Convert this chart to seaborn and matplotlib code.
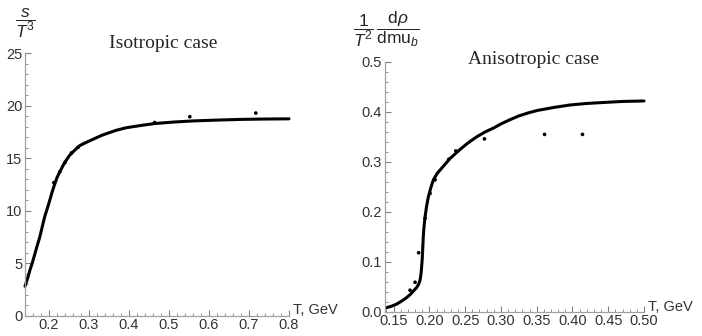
import numpy as np
import pandas as pd
import matplotlib
matplotlib.use("Agg")
import matplotlib.pyplot as plt
from matplotlib.ticker import MultipleLocator, FormatStrFormatter
import seaborn as sns

# ---- data ----
iso_curve_T = [0.14, 0.146, 0.152, 0.158, 0.164, 0.170, 0.177, 0.183, 0.189, 0.196, 0.202,
               0.208, 0.214, 0.220, 0.227, 0.235, 0.243, 0.251, 0.26, 0.268,
               0.277, 0.29, 0.31, 0.33, 0.352, 0.37, 0.393, 0.43, 0.464, 0.51, 0.56,
               0.62, 0.685, 0.74, 0.80]
iso_curve_s = [2.8, 3.5, 4.3, 5.0, 5.8, 6.6, 7.5, 8.45, 9.4, 10.25, 11.0,
               11.8, 12.5, 13.15, 13.7, 14.3, 14.8, 15.25, 15.6, 15.9,
               16.2, 16.45, 16.8, 17.15, 17.45, 17.68, 17.9, 18.12, 18.3, 18.44, 18.55,
               18.63, 18.7, 18.73, 18.75]
iso_pts_T = [0.212, 0.227, 0.240, 0.256, 0.273, 0.464, 0.552, 0.717]
iso_pts_s = [12.67, 13.7, 14.6, 15.5, 16.05, 18.4, 18.95, 19.3]

aniso_curve_T = [0.14, 0.147, 0.154, 0.161, 0.168, 0.173, 0.178, 0.182, 0.185, 0.1868,
                 0.188, 0.189, 0.190, 0.1908, 0.1915, 0.1925, 0.194, 0.196, 0.1986, 0.202,
                 0.2056, 0.211, 0.217, 0.223, 0.229, 0.236, 0.243, 0.254, 0.266, 0.278,
                 0.290, 0.30, 0.312, 0.325, 0.338, 0.351, 0.374, 0.397, 0.42, 0.444,
                 0.47, 0.50]
aniso_curve_v = [0.008, 0.011, 0.015, 0.021, 0.028, 0.034, 0.042, 0.048, 0.055, 0.062,
                 0.072, 0.086, 0.105, 0.128, 0.150, 0.170, 0.190, 0.210, 0.230, 0.248,
                 0.264, 0.277, 0.287, 0.297, 0.307, 0.316, 0.325, 0.338, 0.350, 0.360,
                 0.368, 0.376, 0.384, 0.392, 0.398, 0.403, 0.409, 0.414, 0.417, 0.419,
                 0.421, 0.422]
aniso_pts_T = [0.173, 0.180, 0.185, 0.194, 0.201, 0.208, 0.227, 0.237, 0.277, 0.361, 0.414]
aniso_pts_v = [0.043, 0.059, 0.118, 0.187, 0.237, 0.264, 0.305, 0.322, 0.346, 0.355, 0.355]

iso_title = "Isotropic case"
aniso_title = "Anisotropic case"
xlabel = "T, GeV"

sns.set_style("ticks")
plt.rcParams['font.family'] = ['Liberation Sans', 'DejaVu Sans']
plt.rcParams['mathtext.fontset'] = 'custom'
plt.rcParams['mathtext.rm'] = 'Liberation Sans'
plt.rcParams['mathtext.it'] = 'Liberation Sans:italic'

W, H = 702, 336
fig = plt.figure(figsize=(W / 100, H / 100), dpi=100)

def px_axes(x0, y0, x1, y1):
    return fig.add_axes([x0 / W, 1 - y1 / H, (x1 - x0) / W, (y1 - y0) / H])

ax1 = px_axes(25, 53.2, 289, 315.7)
ax2 = px_axes(385, 62, 644, 311.7)

iso_c = pd.DataFrame({"T": iso_curve_T, "v": iso_curve_s})
iso_p = pd.DataFrame({"T": iso_pts_T, "v": iso_pts_s})
an_c = pd.DataFrame({"T": aniso_curve_T, "v": aniso_curve_v})
an_p = pd.DataFrame({"T": aniso_pts_T, "v": aniso_pts_v})

for ax, c, p in [(ax1, iso_c, iso_p), (ax2, an_c, an_p)]:
    sns.lineplot(data=c, x="T", y="v", ax=ax, color="black", lw=2.2, sort=False)
    sns.scatterplot(data=p, x="T", y="v", ax=ax, color="black", s=7, edgecolor="none", zorder=5)

ax1.set_xlim(0.14, 0.8)
ax1.set_ylim(0, 25)
ax1.xaxis.set_major_locator(MultipleLocator(0.1))
ax1.xaxis.set_minor_locator(MultipleLocator(0.02))
ax1.yaxis.set_major_locator(MultipleLocator(5))
ax1.yaxis.set_minor_locator(MultipleLocator(1))
ax1.xaxis.set_major_formatter(FormatStrFormatter('%.1f'))

ax2.set_xlim(0.138, 0.5)
ax2.set_ylim(0, 0.5)
ax2.xaxis.set_major_locator(MultipleLocator(0.05))
ax2.xaxis.set_minor_locator(MultipleLocator(0.01))
ax2.yaxis.set_major_locator(MultipleLocator(0.1))
ax2.yaxis.set_minor_locator(MultipleLocator(0.02))
ax2.xaxis.set_major_formatter(FormatStrFormatter('%.2f'))
ax2.yaxis.set_major_formatter(FormatStrFormatter('%.1f'))

for ax in (ax1, ax2):
    ax.set_xlabel("")
    ax.set_ylabel("")
    for s in ("top", "right"):
        ax.spines[s].set_visible(False)
    for s in ("left", "bottom"):
        ax.spines[s].set_color("#a0a0a0")
        ax.spines[s].set_linewidth(0.9)
    ax.tick_params(which="major", direction="in", length=4, width=0.8, color="#808080",
                   labelsize=10.5, labelcolor="#333333", pad=2)
    ax.tick_params(which="minor", direction="in", length=2.2, width=0.6, color="#808080")
    ax.patch.set_alpha(0)
    ax.text(1.015, 0.02, xlabel, transform=ax.transAxes, ha="left", va="center",
            fontsize=10.5, color="#333333")
    for ln in ax.lines:
        ln.set_clip_on(False)

fig.text(163 / W, 1 - 44 / H, iso_title, ha="center", va="center",
         fontsize=14, family="Liberation Serif")
fig.text(533 / W, 1 - 60 / H, aniso_title, ha="center", va="center",
         fontsize=14, family="Liberation Serif")

fig.text(25 / W, 1 - 23 / H, r"$\dfrac{s}{T^{3}}$", ha="center", va="center", fontsize=12.5)
fig.text(386 / W, 1 - 29 / H, r"$\dfrac{1}{T^{2}}\,\dfrac{\mathrm{d}\rho}{\mathrm{dmu}_{b}}$",
         ha="center", va="center", fontsize=12.5)

fig.savefig("out.png", dpi=100)
